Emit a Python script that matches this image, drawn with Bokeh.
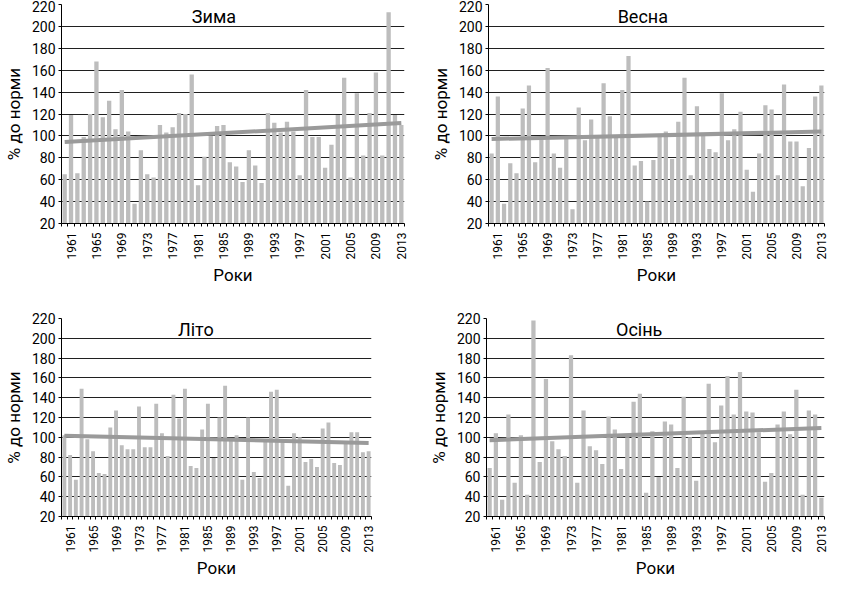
import math
import numpy as np
from bokeh.plotting import figure
from bokeh.models import Range1d, FixedTicker, Label
from bokeh.layouts import column, row
from bokeh.embed import file_html
from bokeh.resources import INLINE

# ---- data ----
years = list(range(1960, 2014))
tick_years = list(range(1961, 2014, 4))
y_ticks = list(range(20, 221, 20))

winter = [65, 119, 66, 99, 120, 168, 117, 132, 106, 142,
          104, 38, 87, 65, 62, 110, 103, 108, 121, 120,
          156, 55, 81, 100, 109, 110, 76, 72, 58, 87,
          73, 57, 121, 112, 103, 113, 104, 64, 142, 99,
          99, 71, 92, 119, 153, 62, 139, 82, 121, 158,
          82, 213, 119, 110]
spring = [84, 136, 38, 75, 66, 125, 146, 76, 97, 162,
          84, 71, 98, 33, 126, 96, 115, 99, 148, 118,
          99, 142, 173, 73, 77, 40, 78, 99, 104, 79,
          113, 153, 64, 127, 100, 88, 85, 139, 96, 106,
          122, 69, 49, 84, 128, 124, 64, 147, 95, 95,
          54, 89, 136, 146]
summer = [102, 82, 57, 149, 98, 86, 64, 63, 110, 127,
          92, 88, 88, 131, 90, 90, 134, 104, 81, 143,
          119, 149, 71, 69, 108, 134, 79, 120, 152, 98,
          102, 57, 120, 65, 59, 96, 146, 148, 96, 51,
          104, 100, 75, 78, 70, 109, 115, 74, 72, 95,
          105, 105, 85, 86]
autumn = [69, 104, 37, 123, 54, 102, 42, 218, 75, 159,
          96, 88, 81, 183, 54, 127, 91, 87, 73, 121,
          108, 68, 100, 136, 144, 44, 106, 60, 116, 113,
          69, 141, 100, 56, 104, 154, 95, 132, 162, 123,
          166, 126, 125, 105, 55, 64, 113, 126, 103, 148,
          42, 127, 123, 39]

titles = ["Зима", "Весна", "Літо", "Осінь"]
x_label = "Роки"
y_label = "% до норми"

FONT = "Roboto"
BAR = "#bdbdbd"
TREND = "#9a9a9a"
GRID = "#202020"


def make_panel(values, title, width, height, bl, br, bt, bb, title_x):
    p = figure(width=width, height=height,
               x_range=Range1d(1959.5, 2013.5), y_range=Range1d(20, 220),
               output_backend="svg", toolbar_location=None,
               min_border_left=bl, min_border_right=br,
               min_border_top=bt, min_border_bottom=bb)
    p.background_fill_color = "white"
    p.border_fill_color = "white"
    p.outline_line_color = None

    p.xgrid.visible = False
    p.ygrid.ticker = FixedTicker(ticks=y_ticks)
    p.ygrid.grid_line_color = GRID
    p.ygrid.grid_line_width = 1

    ya = p.yaxis[0]
    ya.ticker = FixedTicker(ticks=y_ticks)
    ya.axis_line_color = "black"
    ya.major_tick_line_color = "black"
    ya.major_tick_out = 3
    ya.major_tick_in = 0
    ya.minor_tick_line_color = None
    ya.major_label_text_font = FONT
    ya.major_label_text_font_size = "14px"
    ya.major_label_text_color = "black"
    ya.major_label_standoff = 3
    ya.axis_label = y_label
    ya.axis_label_text_font = FONT
    ya.axis_label_text_font_size = "17px"
    ya.axis_label_text_font_style = "normal"
    ya.axis_label_text_color = "black"
    ya.axis_label_standoff = 5

    edges = [y - 0.5 for y in years] + [years[-1] + 0.5]
    xa = p.xaxis[0]
    xa.ticker = FixedTicker(ticks=tick_years, minor_ticks=edges)
    xa.major_label_overrides = {y: str(y) for y in tick_years}
    xa.axis_line_color = "black"
    xa.major_tick_line_color = None
    xa.major_tick_out = 3
    xa.major_tick_in = 0
    xa.minor_tick_line_color = "black"
    xa.minor_tick_out = 3
    xa.minor_tick_in = 0
    xa.major_label_orientation = math.pi / 2
    xa.major_label_text_font = FONT
    xa.major_label_text_font_size = "12px"
    xa.major_label_text_color = "black"
    xa.major_label_standoff = 6
    xa.axis_label = x_label
    xa.axis_label_text_font = FONT
    xa.axis_label_text_font_size = "17px"
    xa.axis_label_text_font_style = "normal"
    xa.axis_label_text_color = "black"
    xa.axis_label_standoff = 3

    p.vbar(x=years, top=values, bottom=20, width=0.68,
           fill_color=BAR, line_color=None)

    slope, intercept = np.polyfit(years, values, 1)
    xs = [years[0], years[-1]]
    p.line(x=xs, y=[slope * x + intercept for x in xs],
           line_width=4, line_color=TREND)

    p.add_layout(Label(x=title_x, y=209, text=title, text_font=FONT,
                       text_font_size="18px", text_color="black",
                       text_align="center", text_baseline="middle"))
    return p


p1 = make_panel(winter, titles[0], 420, 288, 60, 16, 4, 58, 1983.5)
p2 = make_panel(spring, titles[1], 412, 288, 68, 8, 3, 63, 1984.3)
p3 = make_panel(summer, titles[2], 420, 293, 59, 49, 30, 58, 1982.9)
p4 = make_panel(autumn, titles[3], 412, 293, 66, 8, 13, 58, 1983.9)

layout = column(row(p1, p2), row(p3, p4))

open("out.html", "w").write(file_html(layout, INLINE))
